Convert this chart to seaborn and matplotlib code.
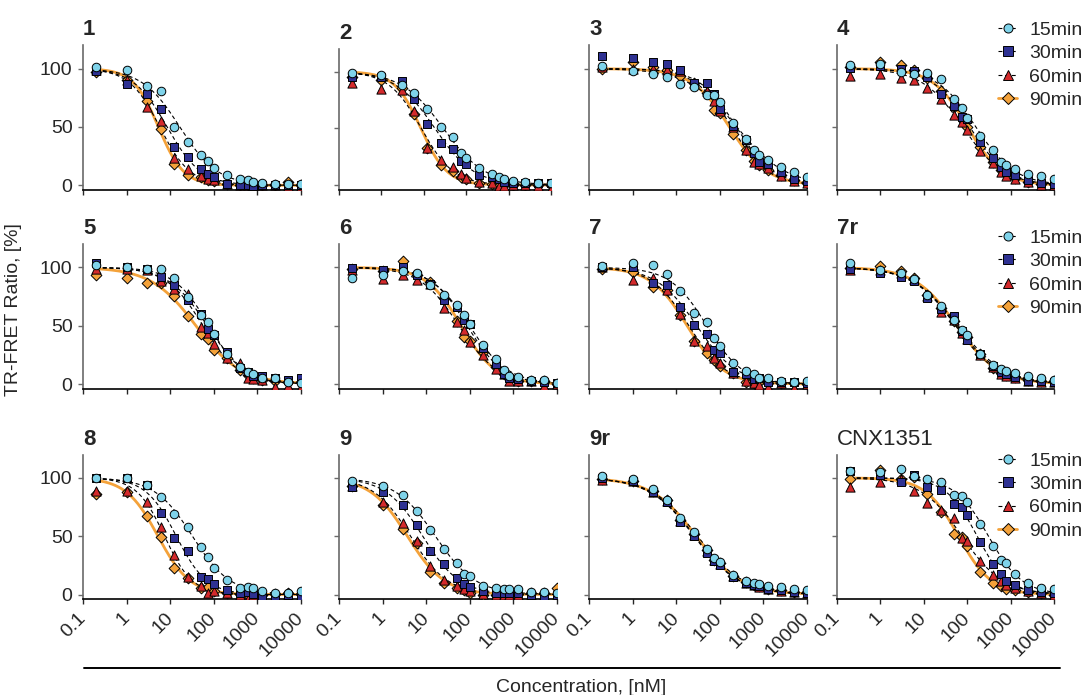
import numpy as np
import pandas as pd
import seaborn as sns
import matplotlib.pyplot as plt
from matplotlib.lines import Line2D

# concentrations (nM) shared by all panels
conc = [0.2, 1, 3, 6, 12, 25, 50, 75, 100, 200, 400, 600, 800, 1250, 2500, 5000, 10000]
times = ['15min', '30min', '60min', '90min']

# TR-FRET ratio [%]: one list per incubation time
p1_15 = [101, 99, 85, 80.5, 50, 37, 26, 21, 15, 8.6, 5.7, 4.3, 3, 2.3, 1, 1, 1]
p1_30 = [98, 87, 78, 65, 33, 24.5, 14, 9.7, 6.8, 1, 0.5, 0, -0.5, 0, 0, 0, 0]
p1_60 = [98.5, 90, 67, 55, 23, 14, 8.3, 5.4, 4.3, 1, 0, 0, -0.5, 0, 0, -0.5, -0.5]
p1_90 = [97.5, 90, 72, 48, 18, 9, 7.4, 4.3, 4, 1.4, 0.6, 0, 0, 0, 0, 2.5, 0]

p2_15 = [99, 97, 88, 81.5, 67, 51, 42.6, 28.5, 23.5, 15, 9.7, 6.8, 5, 3.8, 2.9, 2, 2]
p2_30 = [95.6, 95, 92, 75.6, 54, 37, 31.5, 21.5, 18.5, 8.8, 6.8, 5, 3, 2, 2, 1.5, 2]
p2_60 = [90, 85, 84, 65.6, 33, 22, 15.6, 10, 6.5, 3, 1.5, -0.6, -0.6, 0, 0, -0.6, -3.5]
p2_90 = [95, 93, 86, 62.6, 33, 18, 12, 6.8, 5.6, 1.5, 1, -1, 0, 0, 0, 0, 0]

p3_15 = [102, 97.7, 95, 93, 87, 84, 77, 77, 71.4, 53, 40, 30.6, 25.7, 21.4, 15.7, 11, 7]
p3_30 = [110.6, 109, 105.4, 104, 98.6, 88, 88, 78, 65.7, 51, 39, 28, 20, 18.6, 11, 5.7, 3.4]
p3_60 = [101, 100, 99.7, 98.6, 97.7, 87.7, 81, 72, 64, 50, 30, 20, 18.6, 14.9, 7.7, 3.4, 2]
p3_90 = [100, 106, 101.4, 98.6, 93.4, 87.7, 79, 64.9, 62, 44, 30.6, 20.6, 17, 13.4, 8.6, 4.9, 2]

p4_15 = [102.9, 104, 97, 95, 96, 90.8, 73.6, 66.5, 58, 42, 30.4, 20, 17, 13.8, 9.7, 8, 5.4]
p4_30 = [100.3, 102, 100, 98, 93, 78.5, 67.6, 58.5, 56.7, 37.5, 23, 16, 11.7, 8.9, 4.6, 2.3, 1.1]
p4_60 = [94, 95.4, 91.7, 90.5, 83, 74, 60.5, 54.7, 47.6, 29.8, 19, 11.7, 8.3, 5.4, 2.6, 0.3, 0.3]
p4_90 = [101, 106, 103.4, 99, 92, 80.5, 67, 58.5, 50.4, 33, 20.3, 13, 10.3, 6.6, 3, 1, 0.9]

p5_15 = [102, 100, 98.3, 98.3, 91, 75, 59, 53, 42.6, 26, 14.3, 10, 8.3, 5.4, 4.9, 2, 1.1]
p5_30 = [103.4, 100, 99, 92, 85, 72, 60, 47, 42, 27.7, 13.4, 10.6, 7, 7, 4.9, 3.4, 4.9]
p5_60 = [98.3, 99, 97.7, 88, 81.4, 77, 48.6, 43.4, 34, 22, 18.3, 5.4, 4.3, 3.4, -2.3, -1.4, -2.3]
p5_90 = [93.4, 90.6, 86.9, 86.3, 75.4, 58.6, 42.9, 39, 29, 22.6, 12, 7.7, 4.9, 3.4, 2.6, 2, 2]

p6_15 = [90.6, 93.5, 97, 95.5, 85, 76, 68, 59, 51.7, 33.8, 21.6, 11.6, 6.8, 6.3, 3.4, 3.4, 1.1]
p6_30 = [99.7, 97.7, 100.6, 93.5, 86, 72, 65.6, 55, 51.4, 31, 16.8, 8.2, 4.8, 4.5, 2.6, 2, 1.1]
p6_60 = [97.7, 90, 93.5, 89, 86, 65, 53, 46.6, 36, 24.7, 12.5, 8.2, 3, 2.6, 2.6, -1.7, 0.3]
p6_90 = [98.9, 96.6, 105.4, 93.5, 87.8, 73.6, 54.3, 40, 37, 27.6, 14.5, 8.8, 4.8, 2.6, 2.6, 2.6, 0.3]

p7_15 = [101, 103.4, 102, 94, 79.7, 60.6, 53.4, 39.7, 32.6, 18.3, 11, 8.3, 5.4, 4.9, 2.6, 2, 2.6]
p7_30 = [100, 100.6, 86.3, 85, 66.3, 51, 42.6, 29, 26.3, 10.6, 8.6, 4.3, 4.9, 2, 2, 1.4, 0.6]
p7_60 = [100, 89, 90.6, 80.6, 60, 36.9, 32.6, 22.6, 17.7, 9.7, 2.9, 0.6, -0.9, -2.3, 0.6, -3, -0.3]
p7_90 = [99, 96.3, 83.4, 80.6, 59, 36.9, 26.9, 20.6, 15.4, 9.1, 2, 1.1, 2, 0.6, 0.6, 0.6, 0]

p7r_15 = [104, 98, 95, 89.6, 76, 66.7, 54.6, 46.6, 42, 25.9, 16.7, 12.9, 11.5, 9.2, 7.2, 4.9, 3.4]
p7r_30 = [99, 95.4, 91.4, 88.5, 73.3, 64, 58, 45.4, 37.4, 25.9, 15.2, 10, 8.6, 5.7, 2.9, 2.3, 1.4]
p7r_60 = [97.7, 97.7, 95, 90, 75.3, 61.8, 54.6, 43.7, 38.8, 25, 14.4, 8.6, 7.2, 4.9, 2.9, 2, 1.4]
p7r_90 = [99.4, 101, 96.8, 90.5, 76, 65, 53.7, 44.5, 40.2, 25.9, 13.5, 9.5, 7.8, 5.7, 3.4, 2.9, 2.3]

p8_15 = [100, 100, 94, 84, 69, 57.5, 41, 32, 23, 12.5, 5.4, 6.8, 6, 2.6, 1.1, 1.1, 2.6]
p8_30 = [100, 100, 94, 70, 48.3, 37.2, 14.8, 13, 9, 4, 1.1, 2, 0.6, -0.9, -1.7, -0.3, -2.3]
p8_60 = [89, 89, 79, 58, 33.8, 14.8, 7.4, 1.1, 3.1, 1.1, 0, -4, 0, -1, -4, 0, 0]
p8_90 = [86, 88, 67, 49, 23, 14, 5.4, 6.3, 3, 1, 0.5, 0, 0, 0, 0.6, 1.7, 0.6]

p9_15 = [97, 93.4, 85.7, 71.4, 55, 39, 27, 17.7, 15.7, 7.6, 5.2, 4.6, 4.6, 4.6, 2.4, 2.4, 1.5]
p9_30 = [92, 87.7, 76.6, 59.4, 37, 26.3, 14.3, 8.6, 6.1, 3, 0.9, 1, 0.9, 0.9, 0, -1.5, 0]
p9_60 = [93, 79, 61.4, 45.7, 24.3, 12.3, 7.6, 4.6, 3, 0.5, 0, 0, 0, 0, 0, 0, 0]
p9_90 = [93, 76.3, 56.3, 44.3, 19.4, 10, 6, 4, 1.5, 0, 0, 0, 0, 0.5, 1, 1, 6]

p9r_15 = [101.4, 98.6, 90.6, 81.4, 65.7, 53.7, 39, 31.4, 28, 17, 11.5, 10, 8.6, 7.6, 6.1, 4.6, 3.5]
p9r_30 = [100, 97, 88, 79, 62, 50, 36, 29, 25, 15, 10, 8, 7, 5, 4, 2.5, 1.5]
p9r_60 = [98, 97, 88, 80, 63, 51, 37, 30, 26, 15.5, 10, 8, 6.5, 4.5, 3, 2, 1]
p9r_90 = [99, 97.5, 89, 81, 64, 52, 38, 30, 27, 16, 10.5, 8.5, 7, 5, 3.5, 2.5, 2]

cnx_15 = [106, 104.8, 108, 101.4, 98.6, 96.6, 85, 84.5, 79.4, 60.5, 41.2, 30, 26.6, 18, 10, 6, 5]
cnx_30 = [105.6, 102.8, 96.6, 102.3, 92.4, 89.5, 77.4, 75, 68.4, 45, 26, 17.5, 12, 8, 4, 2, 1]
cnx_60 = [92, 96.6, 98.6, 88.7, 78.8, 72.3, 65.5, 48.3, 46.3, 28.8, 17, 12, 8, 6, 3, 1, 0]
cnx_90 = [99, 107, 98.6, 100.8, 85.9, 70.3, 52, 49, 41.2, 19.5, 10, 7, 5, 4, 2, 1, 0]

titles = ['1', '2', '3', '4', '5', '6', '7', '7r', '8', '9', '9r', 'CNX1351']
series = [
    [p1_15, p1_30, p1_60, p1_90], [p2_15, p2_30, p2_60, p2_90],
    [p3_15, p3_30, p3_60, p3_90], [p4_15, p4_30, p4_60, p4_90],
    [p5_15, p5_30, p5_60, p5_90], [p6_15, p6_30, p6_60, p6_90],
    [p7_15, p7_30, p7_60, p7_90], [p7r_15, p7r_30, p7r_60, p7r_90],
    [p8_15, p8_30, p8_60, p8_90], [p9_15, p9_30, p9_60, p9_90],
    [p9r_15, p9r_30, p9r_60, p9r_90], [cnx_15, cnx_30, cnx_60, cnx_90],
]

colors = {'15min': '#7fd3ea', '30min': '#2e3192', '60min': '#d42a2c', '90min': '#f4a23a'}
markers = {'15min': 'o', '30min': 's', '60min': '^', '90min': 'D'}
msize = {'15min': 38, '30min': 36, '60min': 44, '90min': 30}


def fit_normalized(x, y):
    # least-squares fit of a normalized response curve (top 100, bottom 0):
    # grid search over log IC50 and hill slope
    lx = np.log10(np.asarray(x, float))
    y = np.asarray(y, float)
    c = np.linspace(-1.0, 4.5, 551)
    h = np.linspace(0.4, 3.0, 131)
    C, Hh = np.meshgrid(c, h, indexing='ij')
    pred = 100.0 / (1.0 + 10 ** ((lx - C[..., None]) * Hh[..., None]))
    sse = ((pred - y) ** 2).sum(-1)
    i = np.unravel_index(np.argmin(sse), sse.shape)
    return C[i], Hh[i]


sns.set_style('ticks')
plt.rcParams['font.family'] = ['Liberation Sans', 'DejaVu Sans']
plt.rcParams['font.size'] = 14

W, H = 1086, 695
fig = plt.figure(figsize=(W / 100, H / 100), dpi=100)


def px_axes(left, top, width, height):
    return fig.add_axes([left / W, 1 - (top + height) / H, width / W, height / H])


col_left = [83, 339, 589, 837]
col_w = [218, 218, 218, 217]
row_top = [45.3, 244, 454.5]
ax_h = 144.7

xfit = np.logspace(np.log10(conc[0]), np.log10(conc[-1]), 300)

for n, (title, vals) in enumerate(zip(titles, series)):
    r, c = divmod(n, 4)
    if n == 1:
        # panel 2 is pasted slightly smaller in the original
        ax = px_axes(339, 49, 212, 140.5)
    else:
        ax = px_axes(col_left[c], row_top[r], col_w[c], ax_h)

    # fitted curves
    for t, v in zip(times, vals):
        lc, hill = fit_normalized(conc, v)
        yfit = 100.0 / (1 + 10 ** ((np.log10(xfit) - lc) * hill))
        curve = pd.DataFrame({'x': xfit, 'y': yfit})
        if t == '90min':
            sns.lineplot(data=curve, x='x', y='y', color=colors[t], lw=2.0, ax=ax, zorder=2)
        else:
            sns.lineplot(data=curve, x='x', y='y', color='black', lw=0.8, ax=ax, zorder=3,
                         dashes=False).lines[-1].set_dashes((3.5, 2.5))

    # data points, 90 min drawn first so 15 min ends on top
    df = pd.concat([pd.DataFrame({'conc': conc, 'ratio': v, 'time': t})
                    for t, v in zip(times, vals)], ignore_index=True)
    for t in reversed(times):
        sub = df[df['time'] == t]
        sns.scatterplot(data=sub, x='conc', y='ratio', marker=markers[t], color=colors[t],
                        s=msize[t], edgecolor='black', linewidth=0.7, ax=ax, zorder=4,
                        legend=False)

    ax.set_xscale('log')
    ax.set_xlim(0.1, 10000)
    ax.set_ylim(-4, 120)
    ax.set_yticks([0, 50, 100])
    ax.set_xticks([0.1, 1, 10, 100, 1000, 10000])
    ax.set_xlabel('')
    ax.set_ylabel('')
    for side in ['top', 'right']:
        ax.spines[side].set_visible(False)
    ax.spines['left'].set_color('#6a6a6a')
    ax.spines['left'].set_linewidth(1.2)
    ax.spines['bottom'].set_color('black')
    ax.spines['bottom'].set_linewidth(1.2)
    ax.tick_params(axis='y', length=3.5, width=1.0, color='#6a6a6a', pad=4, labelsize=14)
    ax.tick_params(axis='x', which='major', length=3.6, width=1.0, pad=8, labelsize=14)
    ax.tick_params(axis='x', which='minor', length=2.0, width=0.8)

    if c == 0:
        ax.set_yticklabels(['0', '50', '100'])
    else:
        ax.set_yticklabels([])
    if r == 2:
        ax.set_xticklabels(['0.1', '1', '10', '100', '1000', '10000'], rotation=45,
                           ha='right', va='center', rotation_mode='anchor')
    else:
        ax.set_xticklabels([])
    ax.xaxis.set_minor_formatter(plt.NullFormatter())

    bold = title != 'CNX1351'
    ax.text(0.0, 1 + 10 / ax_h, title, transform=ax.transAxes, ha='left', va='baseline',
            fontsize=16, fontweight='bold' if bold else 'normal')

    if c == 3:
        handles = []
        for t in times:
            if t == '90min':
                handles.append(Line2D([], [], color=colors[t], lw=2.0, marker=markers[t],
                                      markerfacecolor=colors[t], markeredgecolor='black',
                                      markeredgewidth=0.7, markersize=6))
            else:
                handles.append(Line2D([], [], color='black', lw=0.8, ls=(0, (3.5, 2.5)),
                                      marker=markers[t], markerfacecolor=colors[t],
                                      markeredgecolor='black', markeredgewidth=0.7,
                                      markersize=6.5))
        top_px = [21, 229, 452][r]
        ax.legend(handles, times, loc='upper left', frameon=False, fontsize=14,
                  bbox_to_anchor=(998 / W, 1 - top_px / H), bbox_transform=fig.transFigure,
                  borderpad=0, borderaxespad=0, handlelength=1.0, handletextpad=0.6,
                  labelspacing=0.3)

fig.text(14 / W, 1 - 310 / H, 'TR-FRET Ratio, [%]', rotation=90, ha='center', va='center',
         fontsize=14)
fig.add_artist(Line2D([84 / W, 1060 / W], [1 - 668 / H, 1 - 668 / H], color='black', lw=1.4))
fig.text(581 / W, 1 - 687 / H, 'Concentration, [nM]', ha='center', va='center', fontsize=14)

fig.savefig('out.png', dpi=100)
